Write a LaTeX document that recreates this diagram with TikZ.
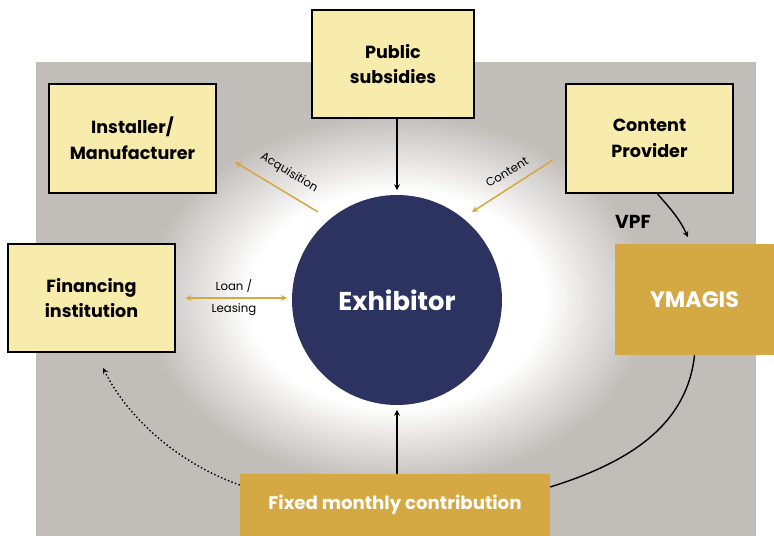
\documentclass[tikz,border=0pt]{standalone}
\usepackage{fontspec}
\setmainfont{Poppins}
\definecolor{cream}{HTML}{F8ECAD}
\definecolor{gold}{HTML}{D4A843}
\definecolor{navy}{HTML}{2C3361}
\definecolor{stone}{HTML}{C1BDB9}
\usetikzlibrary{positioning}
\tikzstyle{party} = [draw=black, fill=cream, line width=1.6pt, minimum width=5.01cm, minimum height=3.27cm, align=center, font=\bfseries\fontsize{15}{22}\selectfont]
\tikzstyle{vendor} = [fill=gold, text=white, align=center, font=\bfseries\fontsize{15.5}{20}\selectfont]
\tikzstyle{flow} = [gold, line width=1.3pt, -stealth]
\tikzstyle{link} = [black, line width=1.2pt]
\tikzstyle{note} = [black, font=\fontsize{10}{12}\selectfont]

\begin{document}
\begin{tikzpicture}[x=0.03cm, y=-0.03cm]
\useasboundingbox (0,0) rectangle (774,536);
\fill[stone] (36,62) rectangle (756,536);
% soft white glow behind the exhibitor
\foreach \i [evaluate=\i as \pct using 2.5*\i,
             evaluate=\i as \rx using 150+2.6*\i,
             evaluate=\i as \ry using 110+1.9*\i] in {40,39,...,0}
  \fill[stone!\pct!white] (397,300) ellipse [x radius=\rx, y radius=\ry];

\node[circle, fill=navy, minimum size=6.3cm, text=white, font=\bfseries\fontsize{22}{26}\selectfont] (exh) at (397,300) {Exhibitor};
\node[party, minimum width=4.86cm, minimum height=3.24cm] (pub) at (393,64) {Public\\subsidies};
\node[party] (inst) at (132.5,138.5) {Installer/\\Manufacturer};
\node[party] (cont) at (649.5,138.5) {Content\\Provider};
\node[party, minimum height=3.24cm] (fin) at (91.5,298) {Financing\\institution};
\node[vendor, minimum width=4.77cm, minimum height=3.33cm, font=\bfseries\fontsize{19}{22}\selectfont] (ym) at (694.5,299.5) {YMAGIS};
\node[vendor, minimum width=9.3cm, minimum height=1.86cm] (fix) at (395,505) {Fixed monthly contribution};

\coordinate (acqfrom) at (318,212);
\coordinate (acqto) at (235,162);
\coordinate (cntfrom) at (553,160);
\coordinate (cntto) at (472,212);
\coordinate (loanback) at (103,368);

% arrows into the exhibitor
\draw[link, -stealth, shorten >=4pt] (pub.south -| exh.north) -- (exh.north);
\draw[link, -stealth, shorten >=4pt] (fix.north -| exh.south) -- (exh.south);
\draw[flow] (acqfrom) -- (acqto);
\draw[flow] (cntfrom) -- (cntto);
\draw[flow, stealth-stealth, shorten <=8pt, shorten >=4pt] (fin.east) -- (fin.east -| exh.west)
  node[note, midway, above=1pt] {Loan /}
  node[note, midway, below=1pt] {Leasing};
\node[note, rotate=-31] at (289,173) {Acquisition};
\node[note, rotate=31] at (507,172) {Content};

% payments
\draw[link, -stealth] ([xshift=0.24cm]cont.south) .. controls +(14,16) and +(-8,-18) .. ([xshift=-0.2cm, yshift=0.2cm]ym.north);
\node[font=\bfseries\fontsize{16}{18}\selectfont] at (633,222) {VPF};
\draw[link] (ym.south) .. controls +(-8,75) and +(70,-22) .. ([yshift=0.54cm]fix.east);
\draw[line width=1.2pt, dotted, -stealth] ([yshift=0.6cm]fix.west) .. controls +(-62,-22) and +(25,50) .. (loanback);
\end{tikzpicture}
\end{document}
